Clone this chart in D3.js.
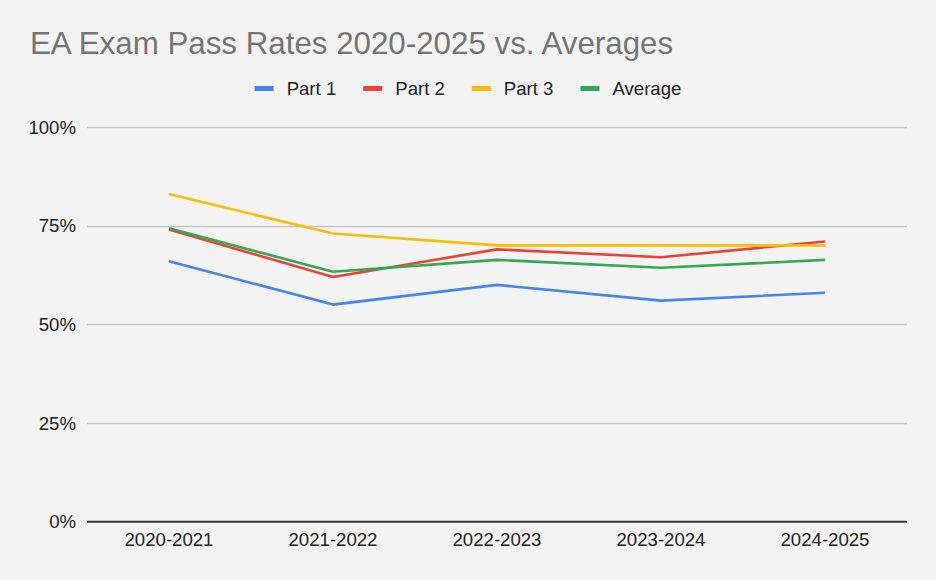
<!DOCTYPE html>
<html>
<head>
<meta charset="utf-8">
<script src="https://cdn.jsdelivr.net/npm/d3@7"></script>
<style>
  body { margin: 0; background: #f3f3f3; }
  svg { display: block; }
</style>
</head>
<body>
<svg id="chart" width="936" height="580"></svg>
<script>
const years = ["2020-2021", "2021-2022", "2022-2023", "2023-2024", "2024-2025"];
const part1 = [66, 55, 60, 56, 58];
const part2 = [74, 62, 69, 67, 71];
const part3 = [83, 73, 70, 70, 70];
const average = [74.33, 63.33, 66.33, 64.33, 66.33];
const yTicks = [0, 25, 50, 75, 100];

const series = [
  { name: "Part 1", values: part1, color: "#4285f4" },
  { name: "Part 2", values: part2, color: "#ea4335" },
  { name: "Part 3", values: part3, color: "#fbbc04" },
  { name: "Average", values: average, color: "#34a853" }
];

const width = 936, height = 580;
const margin = { top: 127, right: 29, bottom: 58, left: 87 };
const font = "'Liberation Sans', Arial, sans-serif";
const labelSize = 18.6;

const svg = d3.select("#chart");

svg.append("rect")
  .attr("width", width)
  .attr("height", height)
  .attr("fill", "#f3f3f3");

// Title
svg.append("text")
  .attr("x", 30)
  .attr("y", 54)
  .attr("font-family", font)
  .attr("font-size", 31.3)
  .attr("fill", "#757575")
  .text("EA Exam Pass Rates 2020-2025 vs. Averages");

const x = d3.scalePoint()
  .domain(years)
  .range([margin.left, width - margin.right])
  .padding(0.5);

const y = d3.scaleLinear()
  .domain([0, 100])
  .range([height - margin.bottom - 0.3, margin.top]);

// Gridlines
svg.append("g")
  .selectAll("line")
  .data(yTicks.filter(d => d > 0))
  .join("line")
  .attr("x1", margin.left)
  .attr("x2", width - margin.right)
  .attr("y1", d => Math.round(y(d)) + 0.5)
  .attr("y2", d => Math.round(y(d)) + 0.5)
  .attr("stroke", "#c6c6c6")
  .attr("stroke-width", 1.3);

// Y labels
svg.append("g")
  .attr("font-family", font)
  .attr("font-size", labelSize)
  .attr("fill", "#222")
  .selectAll("text")
  .data(yTicks)
  .join("text")
  .attr("x", 76)
  .attr("y", d => y(d))
  .attr("dy", "0.35em")
  .attr("text-anchor", "end")
  .text(d => d + "%");

// X labels
svg.append("g")
  .attr("font-family", font)
  .attr("font-size", labelSize)
  .attr("fill", "#222")
  .selectAll("text")
  .data(years)
  .join("text")
  .attr("x", d => x(d))
  .attr("y", 546)
  .attr("text-anchor", "middle")
  .text(d => d);

// Baseline
svg.append("line")
  .attr("x1", margin.left)
  .attr("x2", width - margin.right)
  .attr("y1", y(0))
  .attr("y2", y(0))
  .attr("stroke", "#333")
  .attr("stroke-width", 2);

// Lines
const line = d3.line()
  .x((d, i) => x(years[i]))
  .y(d => y(d));

svg.append("g")
  .selectAll("path")
  .data(series)
  .join("path")
  .attr("d", d => line(d.values))
  .attr("fill", "none")
  .attr("stroke", d => d.color)
  .attr("stroke-width", 2.6)
  .attr("stroke-linejoin", "round");

// Legend, centred on the full width
const legend = svg.append("g")
  .attr("font-family", font)
  .attr("font-size", labelSize)
  .attr("fill", "#222");

const items = legend.selectAll("g")
  .data(series)
  .join("g");

items.append("rect")
  .attr("y", 86)
  .attr("width", 19)
  .attr("height", 5)
  .attr("fill", d => d.color);

items.append("text")
  .attr("x", 32)
  .attr("y", 88.5)
  .attr("dy", "0.35em")
  .text(d => d.name);

let offset = 0;
items.each(function () {
  const w = this.getBBox().width;
  d3.select(this).attr("transform", `translate(${offset},0)`);
  offset += w + 27;
});
const total = offset - 27;
legend.attr("transform", `translate(${(width - total) / 2},0)`);
</script>
</body>
</html>
